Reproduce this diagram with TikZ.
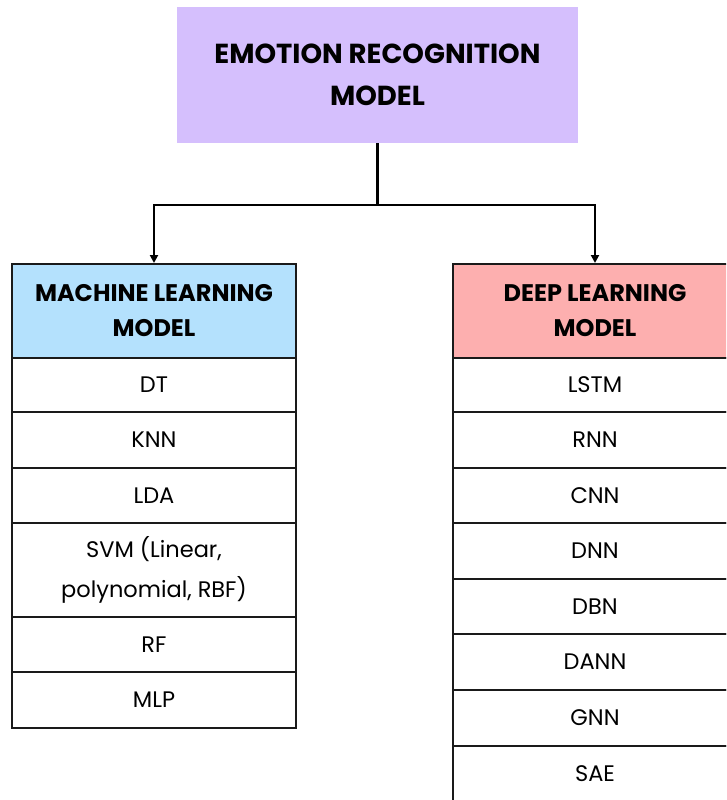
\documentclass[tikz,border=0pt]{standalone}
\usepackage{fontspec}
\setmainfont{Poppins}
\usetikzlibrary{arrows.meta}
\definecolor{lav}{HTML}{D5BFFD}
\definecolor{mlblue}{HTML}{B4E1FD}
\definecolor{dlpink}{HTML}{FDAFAF}
\definecolor{edge}{HTML}{1A1A1A}
\begin{document}
\begin{tikzpicture}[x=1pt,y=-1pt,
  headtxt/.style={font=\fontsize{24}{35}\selectfont\bfseries, align=center},
  cell/.style={draw=edge, line width=2pt, minimum width=284pt, inner sep=0pt,
    align=center, font=\fontsize{22.5}{40}\selectfont},
  conn/.style={draw=black, line width=2.6pt},
  tip/.style={-{Triangle[length=8pt,width=8pt]}}]
\useasboundingbox (0,0) rectangle (726,800);
\clip (0,0) rectangle (726,800);
% top box
\node[fill=lav, minimum width=401pt, minimum height=136pt, inner sep=0pt, align=center, font=\fontsize{27.5}{42}\selectfont\bfseries] (top) at (377.5,75) {EMOTION RECOGNITION\\MODEL};
% left column
\node[cell, fill=mlblue, minimum height=94pt, headtxt] (mlh) at (154,311) {MACHINE LEARNING\\MODEL};
\node[cell, minimum height=54pt] (dt) at (154,385) {DT};
\node[cell, minimum height=56pt] (knn) at (154,440) {KNN};
\node[cell, minimum height=55pt] (lda) at (154,495.5) {LDA};
\node[cell, minimum height=94pt] (svm) at (154,570) {SVM (Linear,\\polynomial, RBF)};
\node[cell, minimum height=55pt] (rf) at (154,644.5) {RF};
\node[cell, minimum height=56pt] (mlp) at (154,700) {MLP};
% right column
\node[cell, fill=dlpink, minimum height=94pt, headtxt] (dlh) at (595,311) {DEEP LEARNING\\MODEL};
\node[cell, minimum height=54pt] (lstm) at (595,385) {LSTM};
\node[cell, minimum height=56pt] (rnn) at (595,440) {RNN};
\node[cell, minimum height=55pt] (cnn) at (595,495.5) {CNN};
\node[cell, minimum height=56pt] (dnn) at (595,551) {DNN};
\node[cell, minimum height=55pt] (dbn) at (595,606.5) {DBN};
\node[cell, minimum height=56pt] (dann) at (595,662) {DANN};
\node[cell, minimum height=56pt] (gnn) at (595,718) {GNN};
\node[cell, minimum height=56pt] (sae) at (595,774) {SAE};
% connectors
\coordinate (j) at (377.5,205);
\draw[conn] (top.south) -- (j);
\draw[conn, tip] (j) -| (mlh.north);
\draw[conn, tip] (j) -| (dlh.north);
\end{tikzpicture}
\end{document}
